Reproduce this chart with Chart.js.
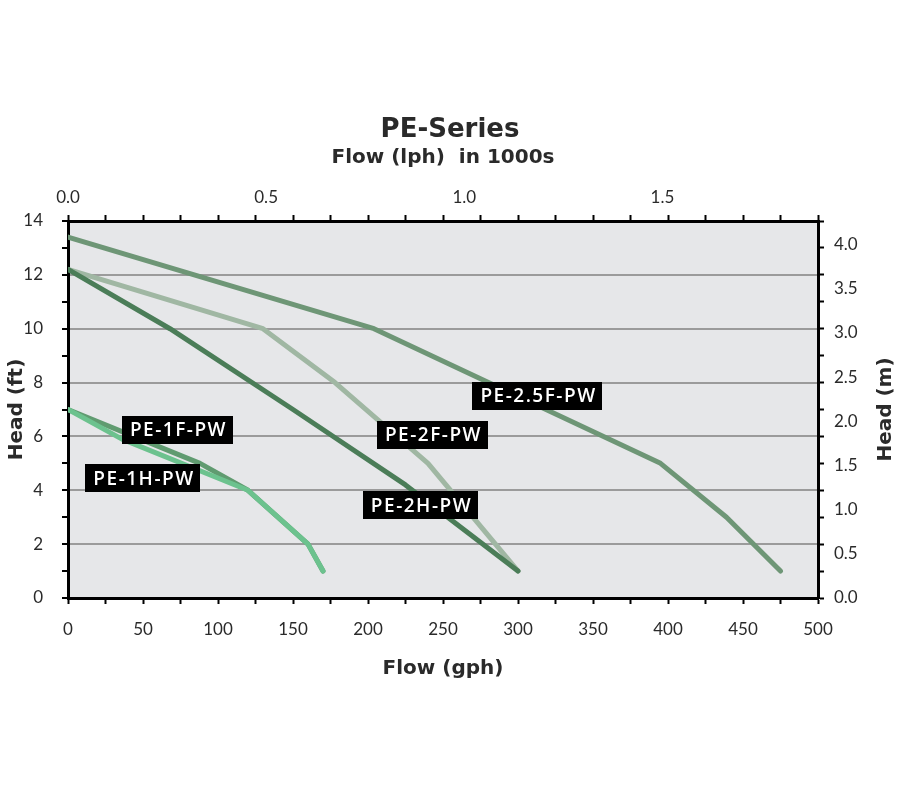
<!DOCTYPE html>
<html>
<head>
<meta charset="utf-8">
<script src="https://cdn.jsdelivr.net/npm/chart.js@4"></script>
<style>
  html, body { margin: 0; padding: 0; background: #fff; }
  #wrap { width: 900px; height: 800px; }
</style>
</head>
<body>
<div id="wrap"><canvas id="pumpchart" width="900" height="800"></canvas></div>
<script>
// curve data (flow in gph, head in ft)
const flow1F = [0, 88, 120, 160, 170];
const head1F = [7, 5, 4, 2, 1];
const flow1H = [0, 36, 120, 160, 170];
const head1H = [7, 5.9, 4, 2, 1];
const flow2F = [0, 130, 178, 240, 300];
const head2F = [12.2, 10, 8, 5, 1];
const flow2H = [0, 68, 150, 225, 300];
const head2H = [12.2, 10, 7, 4.2, 1];
const flow25F = [0, 204, 395, 439, 475];
const head25F = [13.4, 10, 5, 3, 1];

// secondary tick labels
const lphTicks = [0, 0.5, 1.0, 1.5];        // thousands of lph
const meterTicks = [0, 0.5, 1, 1.5, 2, 2.5, 3, 3.5, 4];

// curve names and where their tags sit (gph, ft)
const tagNames = ['PE-1F-PW', 'PE-1H-PW', 'PE-2F-PW', 'PE-2H-PW', 'PE-2.5F-PW'];
const tagFlow = [73, 50, 243, 235, 313];
const tagHead = [6.25, 4.45, 6.05, 3.45, 7.5];

const GAL = 3.78541;
const FT = 0.3048;

function pts(xs, ys) {
  return xs.map((x, i) => ({ x: x, y: ys[i] }));
}

function line(label, xs, ys, color) {
  return {
    label: label,
    data: pts(xs, ys),
    borderColor: color,
    backgroundColor: color,
    borderWidth: 5,
    borderCapStyle: 'round',
    borderJoinStyle: 'round',
    pointRadius: 0,
    tension: 0,
  };
}

const txt = '#2a2a2a';

const plotBg = {
  id: 'plotBg',
  beforeDraw(chart) {
    const a = chart.chartArea;
    const ctx = chart.ctx;
    ctx.save();
    ctx.fillStyle = '#e6e7e9';
    ctx.fillRect(a.left, a.top, a.right - a.left, a.bottom - a.top);
    ctx.restore();
  },
};

const tags = {
  id: 'tags',
  afterDatasetsDraw(chart) {
    const ctx = chart.ctx;
    const xs = chart.scales.x;
    const ys = chart.scales.y;
    ctx.save();
    ctx.font = '600 19px "Open Sans"';
    ctx.letterSpacing = '1.5px';
    ctx.textAlign = 'center';
    ctx.textBaseline = 'middle';
    tagNames.forEach((name, i) => {
      const cx = xs.getPixelForValue(tagFlow[i]);
      const cy = ys.getPixelForValue(tagHead[i]);
      const w = ctx.measureText(name).width + 14;
      const h = 28;
      ctx.fillStyle = '#000';
      ctx.fillRect(Math.round(cx - w / 2), Math.round(cy - h / 2), Math.round(w), h);
      ctx.fillStyle = '#fff';
      ctx.fillText(name, cx + 1, cy + 1);
    });
    ctx.restore();
  },
  // right axis title reads upward like the left one
  afterDraw(chart) {
    const ctx = chart.ctx;
    const s = chart.scales.y2;
    ctx.save();
    ctx.translate(886, (s.top + s.bottom) / 2);
    ctx.rotate(-Math.PI / 2);
    ctx.font = 'bold 20px "DejaVu Sans"';
    ctx.fillStyle = txt;
    ctx.textAlign = 'center';
    ctx.textBaseline = 'middle';
    ctx.fillText('Head (m)', 0, 0);
    ctx.restore();
  },
};

const tickFont = { family: 'Lato', size: 17 };
const titleFont = { family: 'DejaVu Sans', size: 20, weight: 'bold' };

// chart.js paints the first dataset last, so the topmost curve goes first
new Chart(document.getElementById('pumpchart'), {
  type: 'line',
  data: {
    datasets: [
      line('PE-1H-PW', flow1H, head1H, '#6cc28e'),
      line('PE-1F-PW', flow1F, head1F, '#609b70'),
      line('PE-2H-PW', flow2H, head2H, '#4b7d58'),
      line('PE-2F-PW', flow2F, head2F, '#a0b7a3'),
      line('PE-2.5F-PW', flow25F, head25F, '#6e9676'),
    ],
  },
  options: {
    responsive: false,
    animation: false,
    layout: { padding: 0 },
    plugins: {
      legend: { display: false },
      tooltip: { enabled: false },
      title: {
        display: true,
        text: 'PE-Series',
        color: txt,
        font: { family: 'DejaVu Sans', size: 26, weight: 'bold' },
        padding: { top: 115, bottom: 0 },
      },
    },
    scales: {
      x: {
        type: 'linear',
        position: 'bottom',
        min: 0,
        max: 500,
        afterFit(s) { s.height = 202; },
        ticks: {
          stepSize: 25,
          autoSkip: false,
          maxRotation: 0,
          padding: 15,
          color: txt,
          font: tickFont,
          callback: (v) => (v % 50 === 0 ? v : ''),
        },
        grid: { drawOnChartArea: false, tickLength: 6, tickWidth: 2, tickColor: '#000' },
        border: { color: '#000', width: 3 },
        title: { display: true, text: 'Flow (gph)', color: txt, font: titleFont, padding: { top: 0, bottom: 119 } },
      },
      x2: {
        type: 'linear',
        position: 'top',
        min: 0,
        max: 500,
        afterFit(s) { s.height = 74.8; },
        afterBuildTicks(s) {
          const t = [];
          for (let g = 0; g <= 500; g += 25) t.push({ value: g });
          lphTicks.forEach((l) => t.push({ value: l * 1000 / GAL, lph: l }));
          s.ticks = t;
        },
        ticks: {
          autoSkip: false,
          maxRotation: 0,
          padding: 7,
          color: txt,
          font: tickFont,
          callback: (v, i, t) => (t[i].lph !== undefined ? t[i].lph.toFixed(1) : ''),
        },
        grid: {
          drawOnChartArea: false,
          tickLength: 6,
          tickWidth: 2,
          tickColor: (c) => (c.tick && c.tick.lph !== undefined ? 'rgba(0,0,0,0)' : '#000'),
        },
        border: { color: '#000', width: 3 },
        title: { display: true, text: 'Flow (lph)  in 1000s', color: txt, font: titleFont, padding: { top: 0, bottom: 0 } },
      },
      y: {
        type: 'linear',
        position: 'left',
        min: 0,
        max: 14,
        afterFit(s) { s.width = 68; },
        ticks: {
          stepSize: 1,
          autoSkip: false,
          padding: 19,
          color: txt,
          font: tickFont,
          callback: (v) => (v % 2 === 0 ? v : ''),
        },
        grid: {
          color: (c) => {
            const v = c.tick ? c.tick.value : 0;
            return v % 2 === 0 && v > 0 && v < 14 ? '#9b9b9b' : 'rgba(0,0,0,0)';
          },
          lineWidth: 2,
          tickLength: 6,
          tickWidth: 2,
          tickColor: '#000',
        },
        border: { color: '#000', width: 3 },
        title: { display: true, text: 'Head (ft)', color: txt, font: titleFont, padding: { top: 5, bottom: 0 } },
      },
      y2: {
        type: 'linear',
        position: 'right',
        min: 0,
        max: 14,
        afterFit(s) { s.width = 82; },
        afterBuildTicks(s) {
          const t = [];
          for (let f = 0; f <= 14; f += 1) t.push({ value: f });
          meterTicks.forEach((m) => t.push({ value: m / FT, m: m }));
          s.ticks = t;
        },
        ticks: {
          autoSkip: false,
          padding: 10,
          color: txt,
          font: tickFont,
          callback: (v, i, t) => (t[i].m !== undefined ? t[i].m.toFixed(1) : ''),
        },
        grid: {
          drawOnChartArea: false,
          tickLength: 6,
          tickWidth: 2,
          tickColor: (c) => (c.tick && c.tick.m !== undefined ? 'rgba(0,0,0,0)' : '#000'),
        },
        border: { color: '#000', width: 3 },
        title: { display: false },
      },
    },
  },
  plugins: [plotBg, tags],
});
</script>
</body>
</html>
